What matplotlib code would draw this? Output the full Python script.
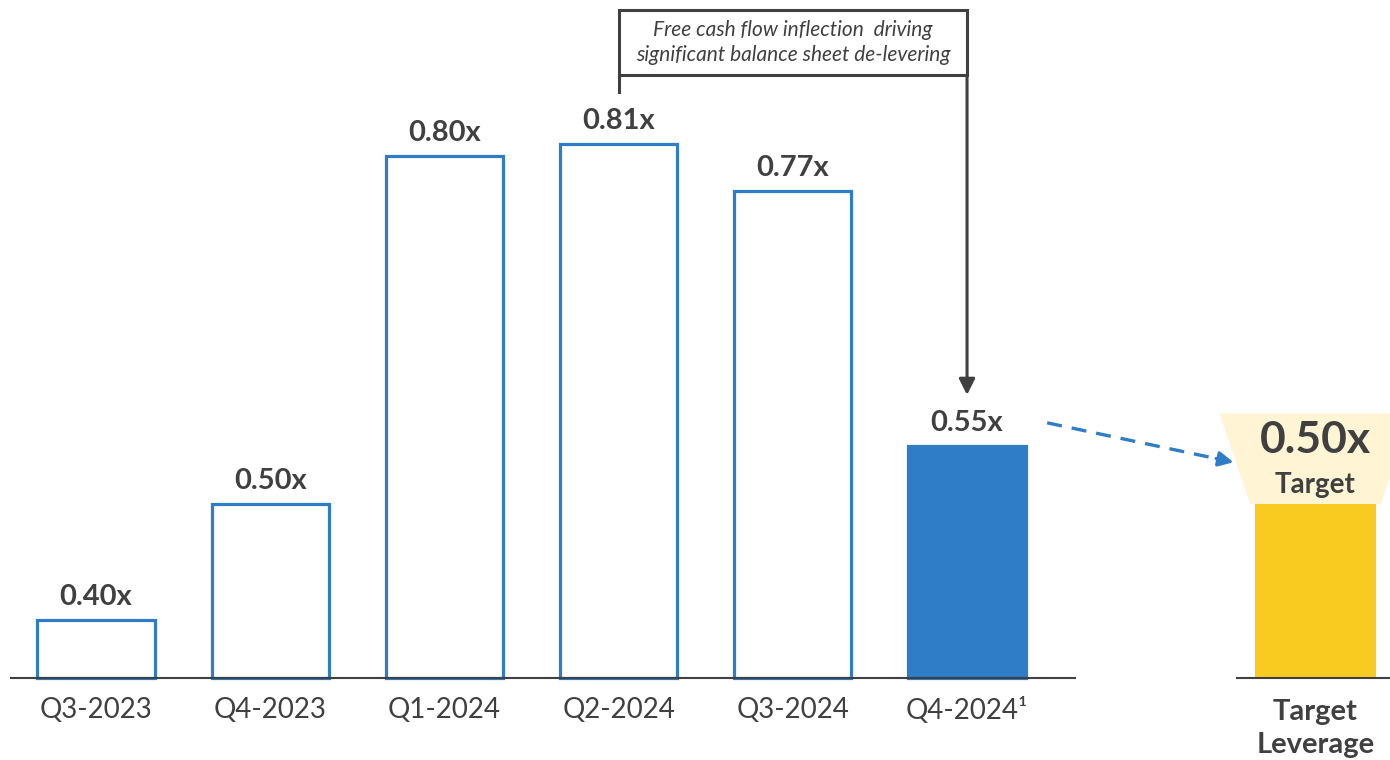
import matplotlib
matplotlib.use("Agg")
from matplotlib import pyplot as plt
from matplotlib.patches import Polygon, Rectangle

plt.rcParams['font.family'] = ['Lato', 'DejaVu Sans']

quarters = ['Q3-2023', 'Q4-2023', 'Q1-2024', 'Q2-2024', 'Q3-2024', 'Q4-2024\u00b9']
leverage = [0.40, 0.50, 0.80, 0.81, 0.77, 0.55]
target_value = 0.50
target_label = 'Target\nLeverage'
note = 'Free cash flow inflection  driving\nsignificant balance sheet de-levering'

blue = '#2E7DC6'
yellow = '#F9CA20'
pale = '#FFF4D3'
dark = '#404040'
base = 0.35          # value axis starts here
bar_w = 0.672
target_x = 7.0

fig = plt.figure(figsize=(13.9, 7.6), dpi=100)
ax = fig.add_axes([0, 0, 1, 1])
ax.set_xlim(-0.551, 7.428)
ax.set_ylim(0.2793, 0.9345)
ax.axis('off')

for i, (q, v) in enumerate(zip(quarters, leverage)):
    last = i == len(quarters) - 1
    ax.bar(i, v - base, bottom=base, width=bar_w,
           facecolor=blue if last else 'white',
           edgecolor=blue, linewidth=2.3, zorder=3)
    ax.text(i, v + 0.02, f'{v:.2f}x', ha='center', va='center',
            fontsize=21, fontweight='bold', color=dark)
    ax.text(i, 0.3224, q, ha='center', va='center', fontsize=20, color=dark)

# baselines
ax.plot([-0.49, 5.62], [base, base], color=dark, lw=1.5, zorder=4)
ax.plot([6.55, 7.5], [base, base], color=dark, lw=1.5, zorder=4)

# target bar with its trapezoid callout
ax.bar(target_x, target_value - base, bottom=base, width=0.69,
       color=yellow, zorder=3)
trap = Polygon([(target_x - 0.55, target_value + 0.078),
                (target_x + 0.55, target_value + 0.078),
                (target_x + 0.375, target_value),
                (target_x - 0.375, target_value)],
               closed=True, facecolor=pale, edgecolor='none', zorder=2)
ax.add_patch(trap)
ax.text(target_x, target_value + 0.055, f'{target_value:.2f}x', ha='center',
        va='center', fontsize=32, fontweight='bold', color=dark)
ax.text(target_x, target_value + 0.0164, 'Target', ha='center', va='center',
        fontsize=20, fontweight='bold', color=dark)
ax.text(target_x, 0.3065, target_label, ha='center', va='center',
        fontsize=21, fontweight='bold', color=dark, linespacing=1.3)

# dashed arrow from the latest quarter to the target
x0, y0 = 5.46, 0.570
x1, y1 = 6.53, 0.536
ax.plot([x0, x1 - 0.08], [y0, y0 + (y1 - y0) * (1 - 0.08 / (x1 - x0))],
        color=blue, lw=2.4, dashes=(4.5, 3.0), zorder=4)
ax.annotate('', xy=(x1, y1), xytext=(x1 - 0.1, y1 + (y0 - y1) * 0.1 / (x1 - x0)),
            arrowprops=dict(arrowstyle='-|>', color=blue, lw=2.4,
                            mutation_scale=22, shrinkA=0, shrinkB=0))

# note box spanning Q2-2024 to Q4-2024
box = Rectangle((3, 0.870), 2, 0.056, facecolor='white', edgecolor=dark,
                lw=2.2, zorder=5)
ax.add_patch(box)
ax.plot([3, 3], [0.870, 0.855], color=dark, lw=2.2, zorder=5)
ax.text(4, 0.898, note, ha='center', va='center', fontsize=15,
        style='italic', color=dark, linespacing=1.35, zorder=6)
ax.annotate('', xy=(5, 0.594), xytext=(5, 0.870),
            arrowprops=dict(arrowstyle='-|>', color=dark, lw=2.2,
                            mutation_scale=24, shrinkA=0, shrinkB=0))

fig.savefig('out.png', dpi=100)
